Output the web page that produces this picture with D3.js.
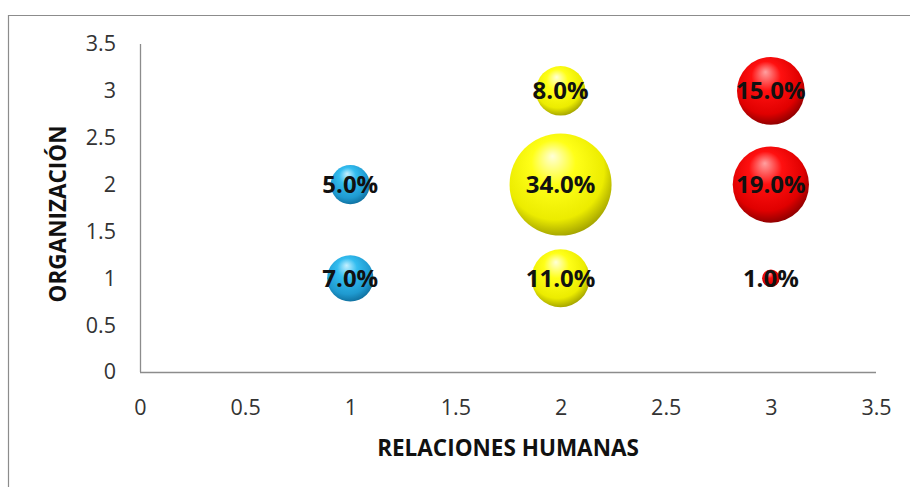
<!DOCTYPE html>
<html><head><meta charset="utf-8">
<script src="https://cdn.jsdelivr.net/npm/d3@7"></script>
<style>
html,body{margin:0;padding:0;background:#fff;}
svg{display:block;}
text{font-family:"Open Sans",sans-serif;}
</style></head>
<body>
<svg id="chart" width="910" height="487"></svg>
<script>
const xValues = [1, 1, 2, 2, 2, 3, 3, 3];
const yValues = [2, 1, 3, 2, 1, 3, 2, 1];
const sizes   = [5, 7, 8, 34, 11, 15, 19, 1];
const labels  = ["5.0%", "7.0%", "8.0%", "34.0%", "11.0%", "15.0%", "19.0%", "1.0%"];
const groups  = ["blue", "blue", "yellow", "yellow", "yellow", "red", "red", "red"];
const xTicks = [0, 0.5, 1, 1.5, 2, 2.5, 3, 3.5];
const yTicks = [0, 0.5, 1, 1.5, 2, 2.5, 3, 3.5];
const xTitle = "RELACIONES HUMANAS";
const yTitle = "ORGANIZACIÓN";

const svg = d3.select("#chart");
const pLeft = 140, pRight = 876, pTop = 44, pBottom = 372;
const x = d3.scaleLinear().domain([0, 3.5]).range([pLeft, pRight]);
const y = d3.scaleLinear().domain([0, 3.5]).range([pBottom, pTop]);
const r = d3.scaleSqrt().domain([0, 34]).range([0, 51]);

// frame
svg.append("path").attr("d", "M8.5,487 V15.5 H910").attr("fill", "none").attr("stroke", "#8c8c8c").attr("stroke-width", 1.2);

// gradients
const defs = svg.append("defs");
const palettes = {
  blue:   ["#c4f0ff", "#33bdf0", "#1f9ad0", "#0f6f9e"],
  yellow: ["#ffffd8", "#ffff18", "#ecec00", "#a0a000"],
  red:    ["#ffa0a0", "#ff1010", "#e00000", "#8a0000"]
};
Object.entries(palettes).forEach(([k, c]) => {
  const g = defs.append("radialGradient").attr("id", "g-" + k)
    .attr("cx", "45%").attr("cy", "40%").attr("r", "62%").attr("fx", "42%").attr("fy", "22%");
  g.append("stop").attr("offset", "0%").attr("stop-color", c[0]);
  g.append("stop").attr("offset", "35%").attr("stop-color", c[1]);
  g.append("stop").attr("offset", "78%").attr("stop-color", c[2]);
  g.append("stop").attr("offset", "100%").attr("stop-color", c[3]);
});

// axes
const xAxis = d3.axisBottom(x).tickValues(xTicks).tickSize(0).tickPadding(28).tickFormat(d3.format("~g"));
const yAxis = d3.axisLeft(y).tickValues(yTicks).tickSize(0).tickPadding(24).tickFormat(d3.format("~g"));
const gx = svg.append("g").attr("transform", `translate(0,${pBottom})`).call(xAxis);
const gy = svg.append("g").attr("transform", `translate(${pLeft},0)`).call(yAxis);
[gx, gy].forEach(g => {
  g.select(".domain").attr("stroke", "#8c8c8c").attr("stroke-width", 1.3);
  g.selectAll("text").attr("font-size", 21.5).attr("fill", "#333").attr("font-family", "'Open Sans',sans-serif");
});
gx.select(".domain").attr("d", `M${pLeft},0.5H${pRight}`);
gy.select(".domain").attr("d", `M0.5,${pTop}V${pBottom}`);

// bubbles
const data = xValues.map((d, i) => ({x: d, y: yValues[i], s: sizes[i], label: labels[i], g: groups[i]}));
data.sort((a, b) => b.s - a.s);
svg.append("g").selectAll("circle").data(data).join("circle")
  .attr("cx", d => x(d.x)).attr("cy", d => y(d.y)).attr("r", d => r(d.s))
  .attr("fill", d => `url(#g-${d.g})`);
svg.append("g").selectAll("text").data(data).join("text")
  .attr("x", d => x(d.x)).attr("y", d => y(d.y)).attr("dy", "0.36em")
  .attr("text-anchor", "middle").attr("font-size", 24).attr("font-weight", "bold")
  .attr("font-family", "'Liberation Sans Narrow','DejaVu Sans Condensed','Open Sans',sans-serif")
  .attr("fill", "#111").text(d => d.label);

// titles
svg.append("text").attr("x", 508).attr("y", 456).attr("text-anchor", "middle")
  .attr("font-size", 22.5).attr("font-weight", "bold").attr("fill", "#111").text(xTitle);
svg.append("text").attr("transform", `translate(66,214) rotate(-90)`)
  .attr("text-anchor", "middle").attr("font-size", 22.5).attr("font-weight", "bold").attr("fill", "#111").text(yTitle);
</script>
</body></html>
